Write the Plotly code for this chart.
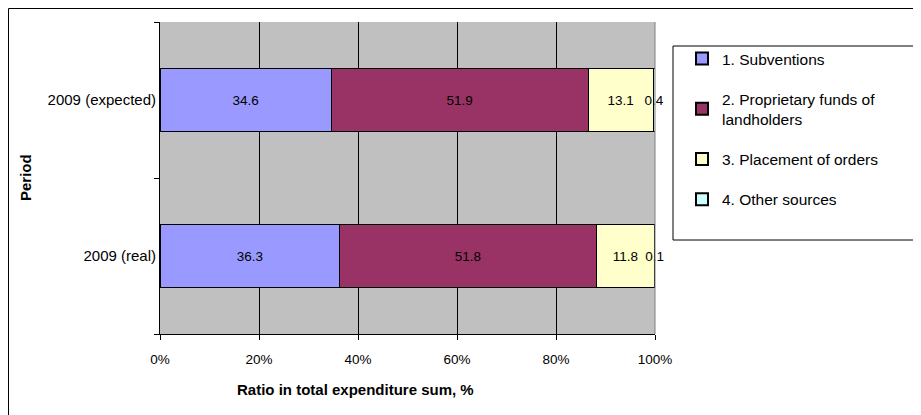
import plotly.graph_objects as go

periods = ["2009 (real)", "2009 (expected)"]
series_names = ["1. Subventions", "2. Proprietary funds of<br>landholders",
                "3. Placement of orders", "4. Other sources"]
subventions = [36.3, 34.6]
proprietary = [51.8, 51.9]
placement = [11.8, 13.1]
other = [0.1, 0.4]
colors = ["#9999FF", "#993366", "#FFFFCC", "#CCFFFF"]
x_ticks = [0, 20, 40, 60, 80, 100]

# page body has an 8px margin; figure coords = screen coords - 8
OFF = 8
W, H = 913, 407
L, T = 160 - OFF, 22 - OFF
PR, PB = 655 - OFF, 334 - OFF
R, B = W - PR, H - PB
pw, ph = PR - L, PB - T

def px_x(p):
    return (p - OFF - L) / pw

def px_y(p):
    return 1 - (p - OFF - T) / ph

FONT = "Liberation Sans, Arial, sans-serif"

fig = go.Figure()
for i, (name, vals) in enumerate(zip(series_names, [subventions, proprietary, placement, other])):
    fig.add_trace(go.Bar(
        y=periods, x=vals, name=name, orientation="h",
        marker=dict(color=colors[i], line=dict(color="black", width=1)),
        width=0.4,
        text=[f"{v:.1f}" for v in vals],
        textposition="inside", insidetextanchor="middle",
        constraintext="none", textangle=0, cliponaxis=False,
        textfont=dict(color="black", size=13.5, family=FONT),
        legendgroup=str(i),
    ))

fig.update_layout(
    width=W, height=H,
    margin=dict(l=L, r=R, t=T, b=B),
    barmode="stack",
    paper_bgcolor="white", plot_bgcolor="#C0C0C0",
    font=dict(family=FONT, size=13, color="black"),
    showlegend=True,
    legend=dict(
        x=px_x(682), y=px_y(42), xanchor="left", yanchor="top",
        bgcolor="rgba(0,0,0,0)", borderwidth=0,
        font=dict(size=15.5, family=FONT),
        traceorder="grouped", tracegroupgap=17,
        itemsizing="constant",
    ),
    xaxis=dict(
        range=[0, 100], tickvals=x_ticks, ticktext=[f"{v}%" for v in x_ticks],
        tickfont=dict(size=13.5),
        showgrid=True, gridcolor="black", gridwidth=1,
        showline=True, linecolor="black", linewidth=1,
        ticks="outside", ticklen=5, tickcolor="black",
        ticklabelstandoff=8, zeroline=False, fixedrange=True,
    ),
    yaxis=dict(
        categoryorder="array", categoryarray=periods,
        tickfont=dict(size=15),
        showgrid=False, showline=True, linecolor="black", linewidth=1,
        ticks="outside", ticklen=5, tickcolor="black", tickson="boundaries",
        fixedrange=True,
    ),
    annotations=[
        dict(text="<b>Ratio in total expenditure sum, %</b>", xref="paper", yref="paper",
             x=px_x(355), y=px_y(389), xanchor="center", yanchor="middle",
             showarrow=False, font=dict(size=15, family=FONT)),
        dict(text="<b>Period</b>", xref="paper", yref="paper", textangle=-90,
             x=px_x(25), y=px_y(178), xanchor="center", yanchor="middle",
             showarrow=False, font=dict(size=15, family=FONT)),
    ],
    shapes=[
        dict(type="rect", xref="paper", yref="paper",
             x0=px_x(673), x1=px_x(918), y0=px_y(240), y1=px_y(46),
             line=dict(color="black", width=1), fillcolor="white", layer="below"),
        dict(type="line", xref="paper", yref="paper",
             x0=px_x(8.5), x1=px_x(930), y0=px_y(8.5), y1=px_y(8.5),
             line=dict(color="black", width=1)),
        dict(type="line", xref="paper", yref="paper",
             x0=px_x(8.5), x1=px_x(8.5), y0=px_y(8.5), y1=px_y(430),
             line=dict(color="black", width=1)),
        dict(type="line", xref="paper", yref="paper",
             x0=1, x1=1, y0=0, y1=1,
             line=dict(color="#808080", width=1)),
    ],
)

fig.write_html("out.html")
